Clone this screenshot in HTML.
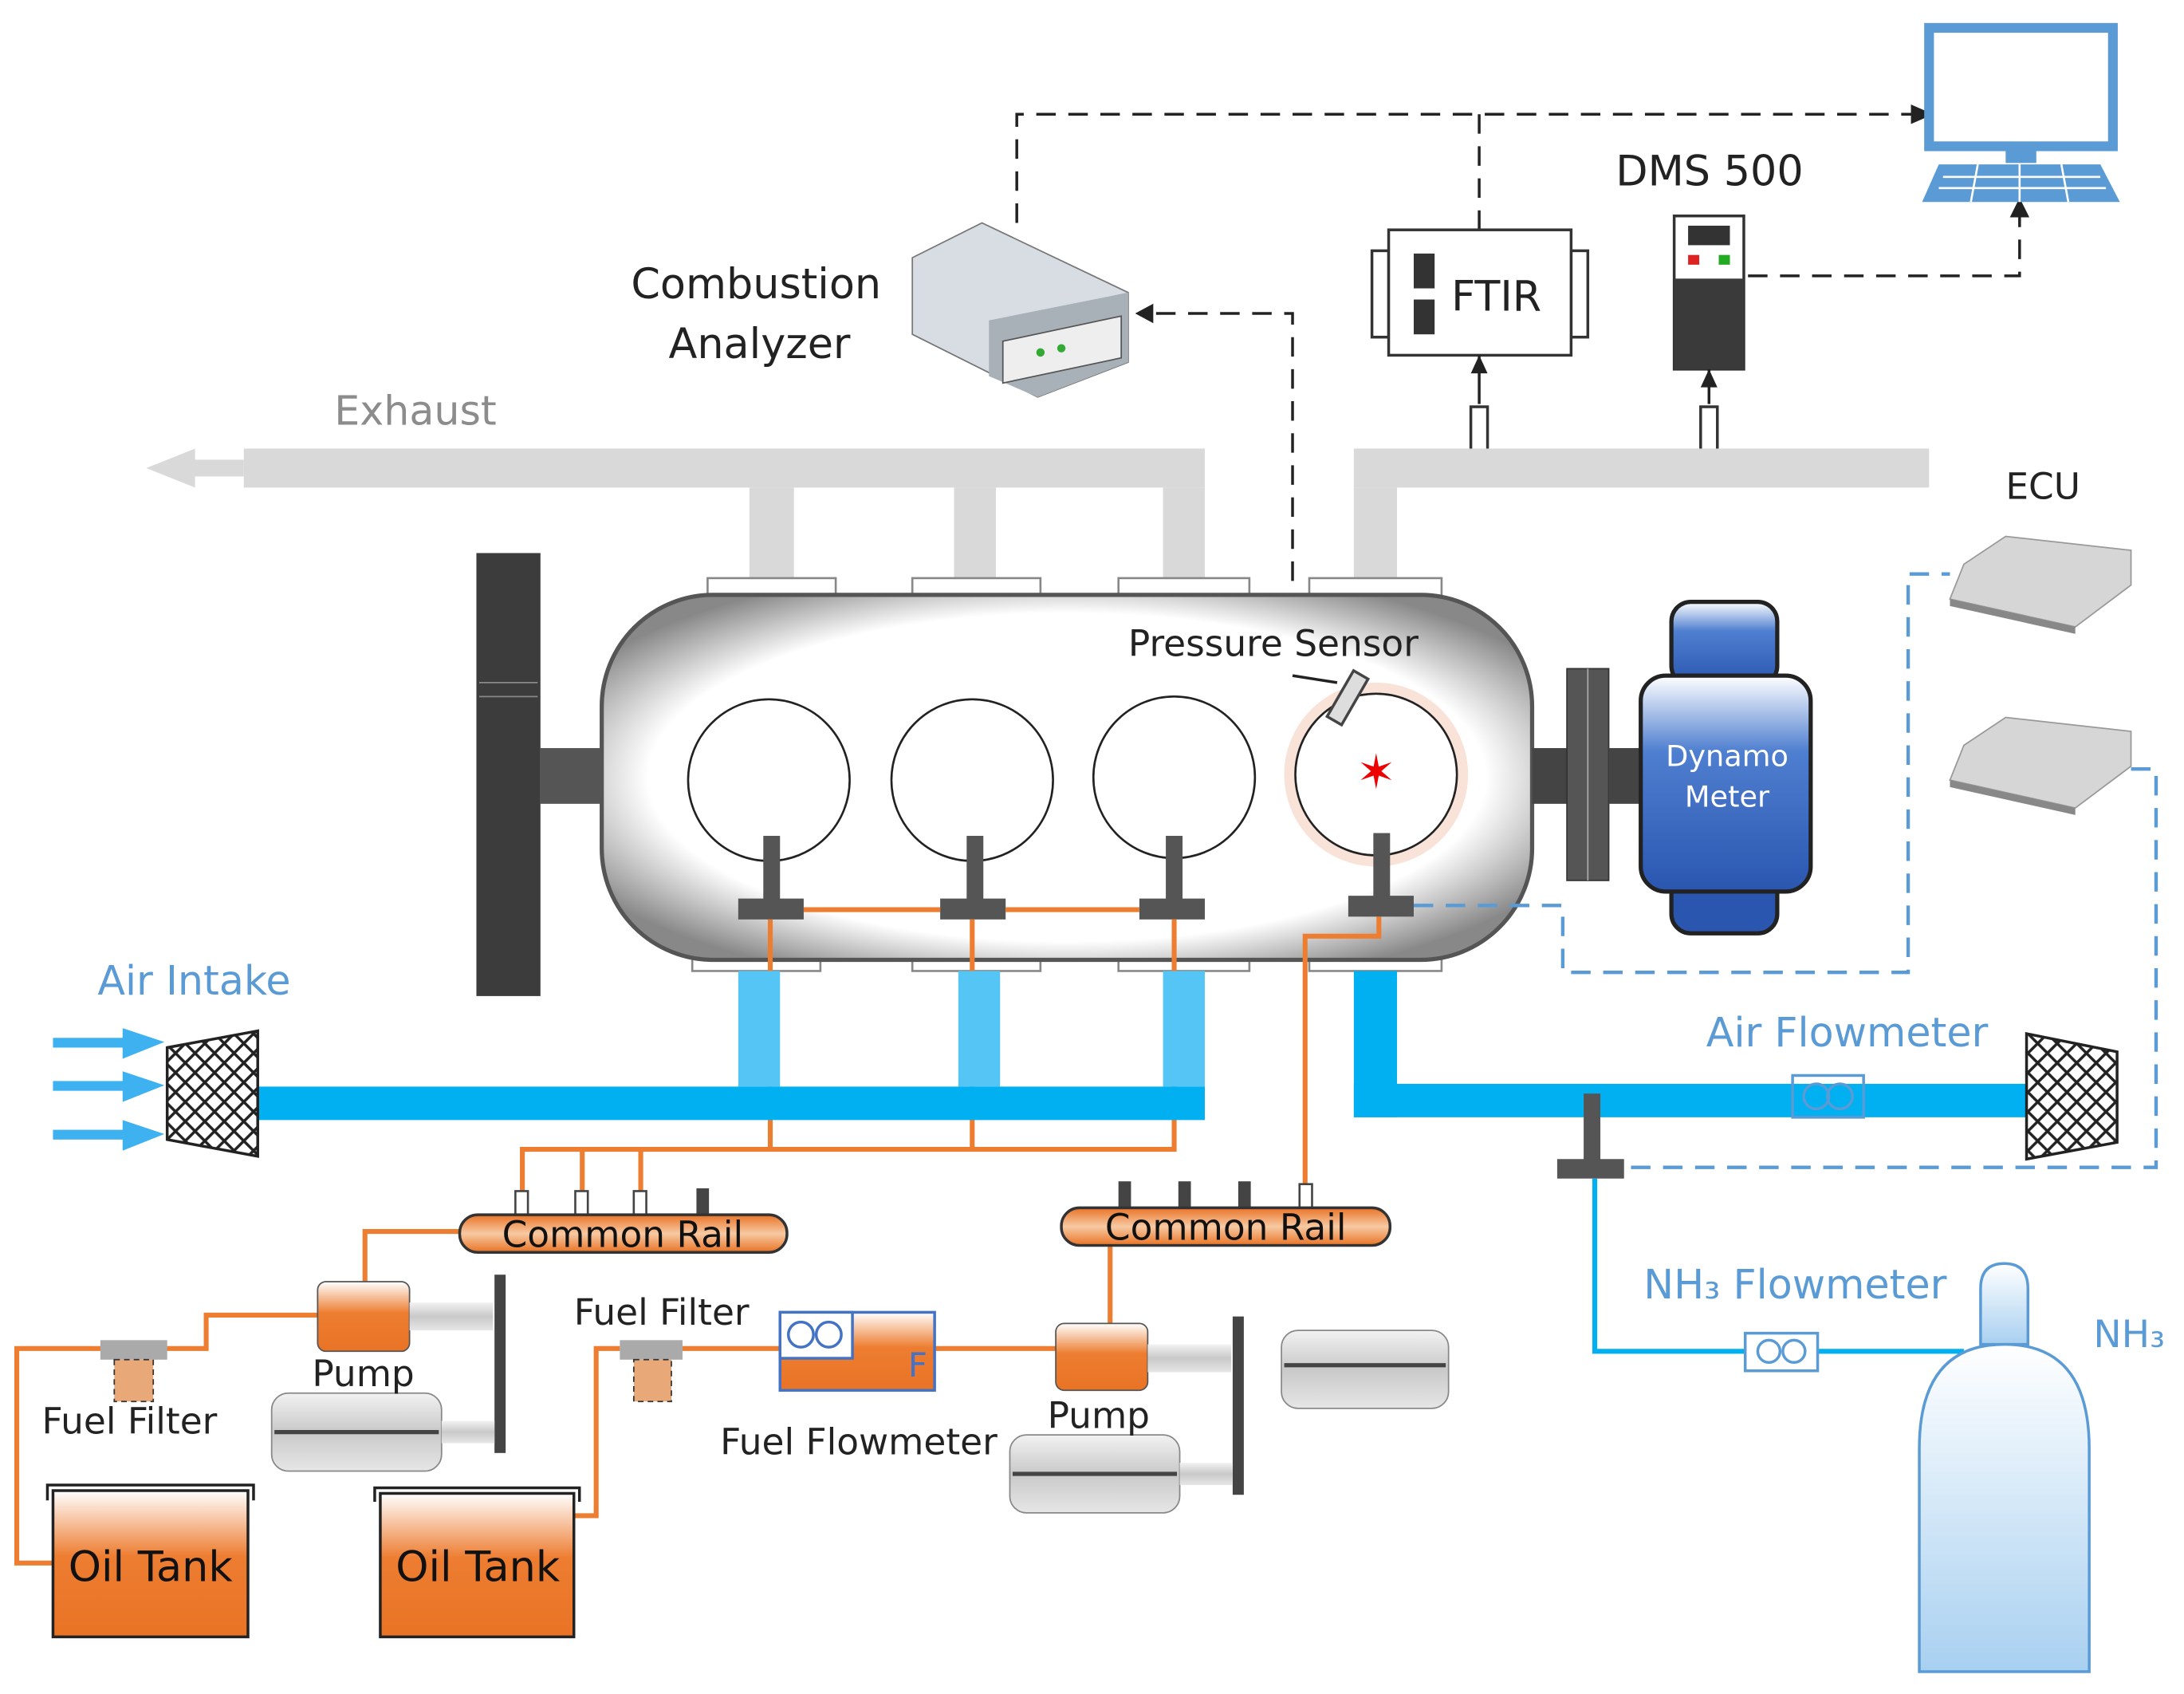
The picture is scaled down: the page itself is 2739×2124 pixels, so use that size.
<!DOCTYPE html>
<html><head><meta charset="utf-8"><style>html,body{margin:0;padding:0;background:#fff}svg{display:block}text{font-family:"DejaVu Sans","Liberation Sans",sans-serif}</style></head><body>
<svg width="2739" height="2124" viewBox="0 0 1568 1216" xmlns="http://www.w3.org/2000/svg">
<defs>
<linearGradient id="og" x1="0" y1="0" x2="0" y2="1"><stop offset="0" stop-color="#fff"/><stop offset="0.45" stop-color="#ed7d31"/><stop offset="1" stop-color="#e97325"/></linearGradient>
<linearGradient id="rail" x1="0" y1="0" x2="0" y2="1"><stop offset="0" stop-color="#e97325"/><stop offset="0.5" stop-color="#f7c9a3"/><stop offset="1" stop-color="#e97325"/></linearGradient>
<linearGradient id="gr" x1="0" y1="0" x2="0" y2="1"><stop offset="0" stop-color="#f2f2f2"/><stop offset="0.5" stop-color="#c9c9c9"/><stop offset="1" stop-color="#e6e6e6"/></linearGradient>
<linearGradient id="dyn" x1="0" y1="0" x2="0" y2="1"><stop offset="0" stop-color="#fff"/><stop offset="0.35" stop-color="#4f7fd0"/><stop offset="1" stop-color="#2a56b0"/></linearGradient>
<linearGradient id="tank" x1="0" y1="0" x2="0" y2="1"><stop offset="0" stop-color="#fff"/><stop offset="1" stop-color="#a8d0f0"/></linearGradient>
<radialGradient id="eng" cx="0.5" cy="0.5" r="0.6"><stop offset="0.75" stop-color="#fff"/><stop offset="1" stop-color="#888"/></radialGradient>
<pattern id="mesh" width="14" height="14" patternUnits="userSpaceOnUse"><rect width="14" height="14" fill="#fff"/><path d="M0 0L14 14M14 0L0 14" stroke="#222" stroke-width="2"/></pattern>
</defs>
<!-- dashed black lines -->
<g fill="none" stroke="#222" stroke-width="2" stroke-dasharray="14,9">
<path d="M730 160V82H1375"/><path d="M1062 82V165"/><path d="M830 225H928V480"/><path d="M1255 198H1450V155"/>
</g>
<polygon points="1388,82 1372,75 1372,89" fill="#222"/>
<polygon points="815,225 828,218 828,232" fill="#222"/>
<polygon points="1450,142 1443,156 1457,156" fill="#222"/>
<!-- monitor -->
<rect x="1385" y="20" width="132" height="85" fill="#fff" stroke="#5b9bd5" stroke-width="7"/>
<rect x="1440" y="105" width="22" height="12" fill="#5b9bd5"/>
<polygon points="1392,118 1508,118 1522,145 1380,145" fill="#5b9bd5"/>
<g stroke="#fff" stroke-width="1.5"><path d="M1395 127H1508M1392 135H1512M1420 118L1415 145M1450 118V145M1480 118L1485 145"/></g>
<!-- labels -->
<text x="1160" y="133" font-size="30" fill="#222">DMS 500</text>
<text x="453" y="214" font-size="30" fill="#222">Combustion</text>
<text x="480" y="257" font-size="30" fill="#222">Analyzer</text>
<!-- analyzer -->
<polygon points="655,185 705,160 810,210 810,260 745,285 655,240" fill="#d8dde3" stroke="#777"/>
<polygon points="710,230 810,210 810,260 745,285 710,270" fill="#a8b0b8"/>
<rect x="720" y="238" width="85" height="30" fill="#eee" stroke="#555" transform="skewY(-12) translate(0,160)"/>
<circle cx="747" cy="253" r="3" fill="#3a3"/><circle cx="762" cy="250" r="3" fill="#3a3"/>
<!-- FTIR -->
<rect x="985" y="180" width="12" height="62" fill="#fff" stroke="#333" stroke-width="2"/>
<rect x="1128" y="180" width="12" height="62" fill="#fff" stroke="#333" stroke-width="2"/>
<rect x="997" y="165" width="131" height="90" fill="#fff" stroke="#333" stroke-width="2"/>
<rect x="1015" y="182" width="15" height="25" fill="#333"/><rect x="1015" y="215" width="15" height="25" fill="#333"/>
<text x="1042" y="223" font-size="30" fill="#222">FTIR</text>
<path d="M1062 255V290" stroke="#222" stroke-width="2"/><polygon points="1062,255 1056,268 1068,268" fill="#222"/>
<rect x="1056" y="292" width="12" height="32" fill="#fff" stroke="#333" stroke-width="2"/><path d="M1062 324V340" stroke="#333" stroke-width="3"/>
<!-- DMS -->
<rect x="1202" y="155" width="50" height="110" fill="#fff" stroke="#333" stroke-width="2"/>
<rect x="1202" y="200" width="50" height="65" fill="#3a3a3a"/>
<rect x="1212" y="162" width="30" height="14" fill="#333"/><rect x="1212" y="183" width="8" height="7" fill="#d22"/><rect x="1234" y="183" width="8" height="7" fill="#2a2"/>
<path d="M1227 265V290" stroke="#222" stroke-width="2"/><polygon points="1227,265 1221,278 1233,278" fill="#222"/>
<rect x="1221" y="292" width="12" height="32" fill="#fff" stroke="#333" stroke-width="2"/><path d="M1227 324V340" stroke="#333" stroke-width="3"/>
<!-- exhaust -->
<text x="240" y="305" font-size="29" fill="#8c8c8c">Exhaust</text>
<g fill="#d9d9d9">
<rect x="175" y="322" width="690" height="28"/><polygon points="105,336 140,322 140,330 175,330 175,342 140,342 140,350"/>
<rect x="538" y="350" width="32" height="66"/><rect x="685" y="350" width="30" height="66"/><rect x="835" y="350" width="30" height="66"/>
<rect x="972" y="322" width="413" height="28"/><rect x="972" y="350" width="31" height="66"/>
</g>
<g fill="#fff" stroke="#888" stroke-width="1.5">
<rect x="508" y="415" width="92" height="13"/><rect x="655" y="415" width="92" height="13"/><rect x="803" y="415" width="94" height="13"/><rect x="940" y="415" width="95" height="13"/>
<rect x="497" y="684" width="92" height="13"/><rect x="655" y="684" width="92" height="13"/><rect x="803" y="684" width="94" height="13"/><rect x="940" y="684" width="95" height="13"/>
</g>
<!-- flywheel, shafts -->
<rect x="388" y="537" width="48" height="40" fill="#555"/>
<rect x="342" y="397" width="46" height="318" fill="#3c3c3c"/>
<path d="M344 490H386M344 500H386" stroke="#888"/>
<!-- engine -->
<rect x="432" y="427" width="668" height="262" rx="80" fill="url(#eng)" stroke="#555" stroke-width="3"/>
<text x="810" y="471" font-size="26" fill="#222">Pressure Sensor</text>
<circle cx="988" cy="556" r="66" fill="#f6d5c8" opacity="0.7"/>
<g fill="#fff" stroke="#222" stroke-width="1.5">
<circle cx="552" cy="560" r="58"/><circle cx="698" cy="560" r="58"/><circle cx="843" cy="558" r="58"/><circle cx="988" cy="556" r="58"/>
</g>
<text x="988" y="566" font-size="34" fill="#e00" text-anchor="middle">✶</text>
<path d="M928 485L960 490" stroke="#222" stroke-width="2"/>
<rect x="962" y="482" width="12" height="38" fill="#ddd" stroke="#444" stroke-width="2" transform="rotate(30 968 500)"/>
<g fill="#555">
<rect x="548" y="600" width="12" height="48"/><rect x="530" y="645" width="47" height="15"/>
<rect x="694" y="600" width="12" height="48"/><rect x="675" y="645" width="47" height="15"/>
<rect x="837" y="600" width="12" height="48"/><rect x="818" y="645" width="47" height="15"/>
<rect x="986" y="598" width="12" height="48"/><rect x="968" y="643" width="47" height="15"/>
</g>
<!-- orange lines -->
<g fill="none" stroke="#ed7d31" stroke-width="3.5">
<path d="M577 653H675M722 653H818"/>
<path d="M553 660V825H375V858M698 660V825M843 660V825H553M418 825V858M460 825V858"/>
<path d="M990 658V672H937V852"/>
<path d="M330 884H262V922"/>
<path d="M797 893V950"/>
<path d="M230 944H148V968H118M76 968H12V1122H40"/>
<path d="M412 1088H428V968H445M490 968H560M670 968H760"/>
</g>
<!-- right drivetrain -->
<rect x="1100" y="537" width="25" height="40" fill="#444"/>
<rect x="1125" y="480" width="30" height="152" fill="#555" stroke="#333"/><path d="M1140 480V632" stroke="#aaa"/>
<rect x="1155" y="537" width="25" height="40" fill="#444"/>
<rect x="1200" y="432" width="76" height="60" rx="14" fill="url(#dyn)" stroke="#222" stroke-width="3"/>
<rect x="1200" y="620" width="76" height="50" rx="14" fill="#2a56b0" stroke="#222" stroke-width="3"/>
<rect x="1178" y="485" width="122" height="155" rx="18" fill="url(#dyn)" stroke="#222" stroke-width="3"/>
<text x="1240" y="550" font-size="21" fill="#fff" text-anchor="middle">Dynamo</text>
<text x="1240" y="579" font-size="21" fill="#fff" text-anchor="middle">Meter</text>
<!-- ECU -->
<text x="1440" y="358" font-size="26" fill="#222">ECU</text>
<g>
<polygon points="1410,405 1440,385 1530,395 1530,420 1490,450 1400,430" fill="#d6d6d6" stroke="#999"/>
<polygon points="1400,430 1490,450 1490,455 1400,435" fill="#888"/>
<polygon points="1410,535 1440,515 1530,525 1530,550 1490,580 1400,560" fill="#d6d6d6" stroke="#999"/>
<polygon points="1400,560 1490,580 1490,585 1400,565" fill="#888"/>
</g>
<!-- blue dashed -->
<g fill="none" stroke="#5b9bd5" stroke-width="2.5" stroke-dasharray="14,9">
<path d="M1015 650H1122V698H1370V412H1400"/>
<path d="M1530 552H1548V838H1168"/>
</g>
<!-- air intake -->
<text x="70" y="714" font-size="29" fill="#5b9bd5">Air Intake</text>
<g fill="#00b0f0">
<rect x="185" y="780" width="680" height="24"/>
<rect x="972" y="697" width="31" height="105"/><rect x="972" y="778" width="483" height="24"/>
</g>
<g fill="#55c5f5"><rect x="530" y="697" width="30" height="83"/><rect x="688" y="697" width="30" height="83"/><rect x="835" y="697" width="30" height="83"/></g>
<g fill="#3eb1f0"><rect x="38" y="745" width="55" height="7"/><polygon points="88,738 118,748 88,760"/><rect x="38" y="776" width="55" height="7"/><polygon points="88,769 118,779 88,791"/><rect x="38" y="811" width="55" height="7"/><polygon points="88,804 118,814 88,826"/></g>
<polygon points="120,752 185,740 185,830 120,818" fill="url(#mesh)" stroke="#222" stroke-width="2"/>
<polygon points="1455,742 1520,755 1520,820 1455,832" fill="url(#mesh)" stroke="#222" stroke-width="2"/>
<text x="1225" y="751" font-size="29" fill="#5b9bd5">Air Flowmeter</text>
<rect x="1287" y="772" width="51" height="30" fill="none" stroke="#5b9bd5" stroke-width="2"/>
<circle cx="1304" cy="787" r="9" fill="none" stroke="#5b9bd5" stroke-width="2"/><circle cx="1321" cy="787" r="9" fill="none" stroke="#5b9bd5" stroke-width="2"/>
<!-- NH3 -->
<rect x="1137" y="785" width="12" height="50" fill="#555"/><rect x="1118" y="832" width="48" height="14" fill="#555"/>
<path d="M1145 846V970H1410" fill="none" stroke="#00b0f0" stroke-width="3.5"/>
<text x="1180" y="932" font-size="29" fill="#5b9bd5">NH₃ Flowmeter</text>
<rect x="1253" y="957" width="52" height="27" fill="#fff" stroke="#5b9bd5" stroke-width="2"/>
<circle cx="1270" cy="970" r="8" fill="none" stroke="#5b9bd5" stroke-width="2"/><circle cx="1288" cy="970" r="8" fill="none" stroke="#5b9bd5" stroke-width="2"/>
<text x="1503" y="967" font-size="27" fill="#5b9bd5">NH₃</text>
<path d="M1422 965V925Q1422 907 1439 907Q1456 907 1456 925V965Z" fill="url(#tank)" stroke="#5b9bd5" stroke-width="2"/>
<path d="M1378 1200V1040Q1378 965 1439 965Q1500 965 1500 1040V1200Z" fill="url(#tank)" stroke="#5b9bd5" stroke-width="2"/>
<!-- common rails -->
<g fill="#fff" stroke="#444" stroke-width="1.5">
<rect x="370" y="855" width="9" height="18"/><rect x="413" y="855" width="9" height="18"/><rect x="455" y="855" width="9" height="18"/>
<rect x="933" y="850" width="9" height="18"/></g>
<g fill="#444"><rect x="500" y="853" width="9" height="20"/><rect x="803" y="848" width="9" height="20"/><rect x="846" y="848" width="9" height="20"/><rect x="889" y="848" width="9" height="20"/></g>
<rect x="330" y="872" width="235" height="27" rx="13" fill="url(#rail)" stroke="#333" stroke-width="2"/>
<rect x="762" y="867" width="236" height="27" rx="13" fill="url(#rail)" stroke="#333" stroke-width="2"/>
<text x="447" y="895" font-size="26" fill="#111" text-anchor="middle">Common Rail</text>
<text x="880" y="890" font-size="26" fill="#111" text-anchor="middle">Common Rail</text>
<!-- pumps -->
<rect x="228" y="920" width="66" height="50" rx="6" fill="url(#og)" stroke="#555"/>
<rect x="294" y="935" width="60" height="20" fill="url(#gr)"/>
<rect x="355" y="915" width="8" height="128" fill="#444"/>
<rect x="195" y="1000" width="122" height="56" rx="12" fill="url(#gr)" stroke="#888"/><path d="M197 1028H315" stroke="#444" stroke-width="3"/>
<rect x="317" y="1020" width="38" height="16" fill="url(#gr)"/>
<text x="224" y="995" font-size="26" fill="#222">Pump</text>
<text x="30" y="1029" font-size="26" fill="#222">Fuel Filter</text>
<rect x="758" y="950" width="66" height="48" rx="6" fill="url(#og)" stroke="#555"/>
<rect x="824" y="965" width="60" height="20" fill="url(#gr)"/>
<rect x="885" y="945" width="8" height="128" fill="#444"/>
<rect x="920" y="955" width="120" height="56" rx="12" fill="url(#gr)" stroke="#888"/><path d="M922 980H1038" stroke="#444" stroke-width="3"/>
<rect x="725" y="1030" width="122" height="56" rx="12" fill="url(#gr)" stroke="#888"/><path d="M727 1058H845" stroke="#444" stroke-width="3"/>
<rect x="847" y="1050" width="38" height="16" fill="url(#gr)"/>
<text x="752" y="1025" font-size="26" fill="#222">Pump</text>
<text x="412" y="951" font-size="26" fill="#222">Fuel Filter</text>
<text x="517" y="1044" font-size="26" fill="#222">Fuel Flowmeter</text>
<!-- filters -->
<rect x="72" y="962" width="48" height="14" fill="#aaa"/><rect x="82" y="976" width="28" height="30" fill="#e9a878" stroke="#333" stroke-dasharray="4,3"/>
<rect x="445" y="962" width="45" height="14" fill="#aaa"/><rect x="455" y="976" width="27" height="30" fill="#e9a878" stroke="#333" stroke-dasharray="4,3"/>
<!-- fuel flowmeter -->
<rect x="560" y="942" width="111" height="56" fill="url(#og)" stroke="#4472c4" stroke-width="2"/>
<rect x="560" y="942" width="52" height="33" fill="#fff" stroke="#4472c4" stroke-width="2"/>
<circle cx="575" cy="958" r="9" fill="none" stroke="#4472c4" stroke-width="2"/><circle cx="595" cy="958" r="9" fill="none" stroke="#4472c4" stroke-width="2"/>
<text x="652" y="988" font-size="24" fill="#4472c4">F</text>
<!-- oil tanks -->
<path d="M34 1077V1066H182V1077" fill="none" stroke="#222" stroke-width="2"/>
<rect x="38" y="1070" width="140" height="105" fill="url(#og)" stroke="#222" stroke-width="2"/>
<path d="M269 1078V1068H416V1078" fill="none" stroke="#222" stroke-width="2"/>
<rect x="273" y="1072" width="139" height="103" fill="url(#og)" stroke="#222" stroke-width="2"/>
<text x="108" y="1135" font-size="30" fill="#111" text-anchor="middle">Oil Tank</text>
<text x="343" y="1135" font-size="30" fill="#111" text-anchor="middle">Oil Tank</text>
</svg>
</body></html>
